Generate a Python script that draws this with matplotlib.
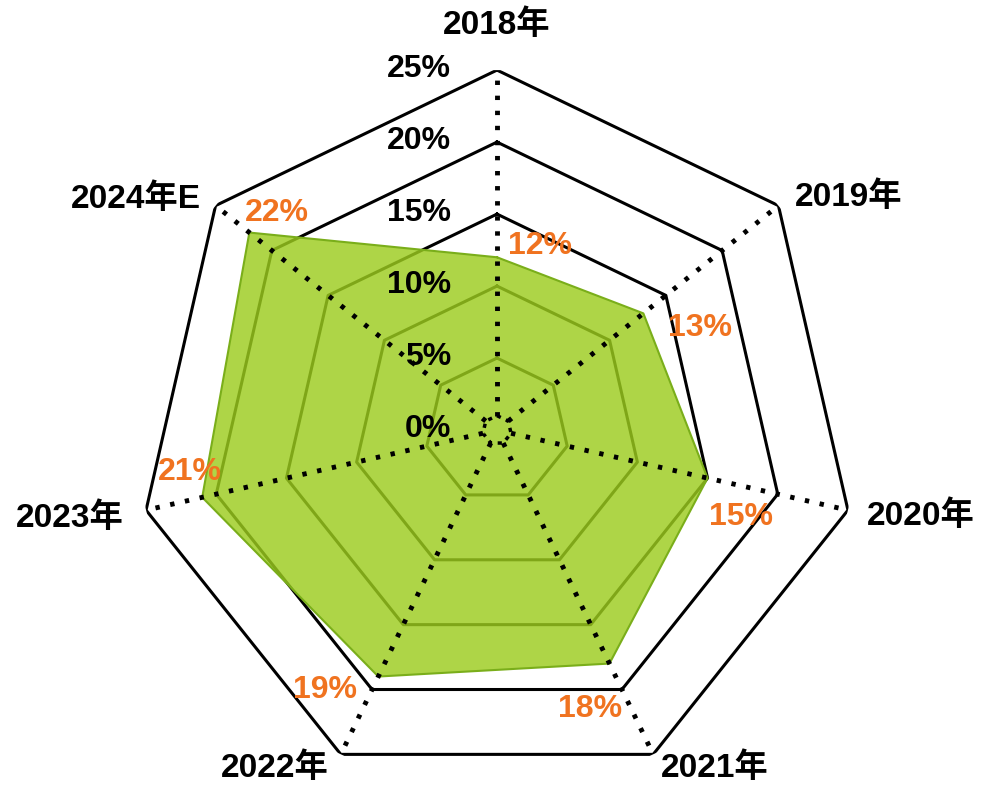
import numpy as np
import matplotlib
matplotlib.use("Agg")
import matplotlib.pyplot as plt

plt.rcParams['font.family'] = ['Liberation Sans', 'Noto Sans CJK SC', 'DejaVu Sans']

# datos del gráfico
categorias = ["2018年", "2019年", "2020年", "2021年", "2022年", "2023年", "2024年E"]
valores = [12, 13, 15, 18, 19, 21, 22]
niveles = [0, 5, 10, 15, 20, 25]
etiquetas_niveles = ["0%", "5%", "10%", "15%", "20%", "25%"]

n = len(categorias)
angulos = np.arange(n) * 2 * np.pi / n

fig = plt.figure(figsize=(9.87, 7.92), dpi=100)
ax = fig.add_axes([0.1388, 0.0025, 0.7295, 0.909], polar=True)
ax.set_theta_zero_location("N")
ax.set_theta_direction(-1)
ax.set_ylim(0, 25)
ax.axis("off")

cerrar = np.append(angulos, angulos[0])

# anillos heptagonales (debajo del relleno)
for r in niveles[1:]:
    ax.plot(cerrar, [r] * (n + 1), color="black", lw=2.2, zorder=1)

# relleno de la serie
v = np.append(valores, valores[0])
ax.fill(cerrar, v, color="#9CCC1E", alpha=0.82, zorder=2, lw=0)
ax.plot(cerrar, v, color="#7AAE1A", lw=1.5, zorder=3)

# radios punteados (encima) y pequeño anillo central punteado
for a in angulos:
    ax.plot([a, a], [1, 25], color="black", lw=3.5, linestyle=(0, (0.9, 2.2)), zorder=4)
ax.plot(cerrar, [1] * (n + 1), color="black", lw=2.5, linestyle=(0, (1.2, 1.6)), zorder=4)

# etiquetas de los niveles
for r, t in zip(niveles, etiquetas_niveles):
    ax.annotate(t, xy=(0, r), xytext=(-46, 1), textcoords="offset pixels",
                ha="right", va="center", fontsize=23, fontweight="bold", zorder=5)

# etiquetas de categorías
desp_cat = [(0, 45), (70, 8), (73, -6), (62, -14), (-66, -14), (-76, -8), (-80, 6)]
for a, c, d in zip(angulos, categorias, desp_cat):
    ax.annotate(c, xy=(a, 25), xytext=d, textcoords="offset pixels",
                ha="center", va="center", fontsize=24, fontweight="bold", zorder=5)

# etiquetas de valores
desp_val = [(43, 11), (57, -15), (33, -39), (-19, -45), (-53, -13), (-12, 25), (28, 20)]
for a, val, d in zip(angulos, valores, desp_val):
    ax.annotate(f"{val}%", xy=(a, val), xytext=d, textcoords="offset pixels",
                ha="center", va="center", fontsize=23, fontweight="bold",
                color="#F07320", zorder=6)

fig.savefig("out.png", dpi=100)
